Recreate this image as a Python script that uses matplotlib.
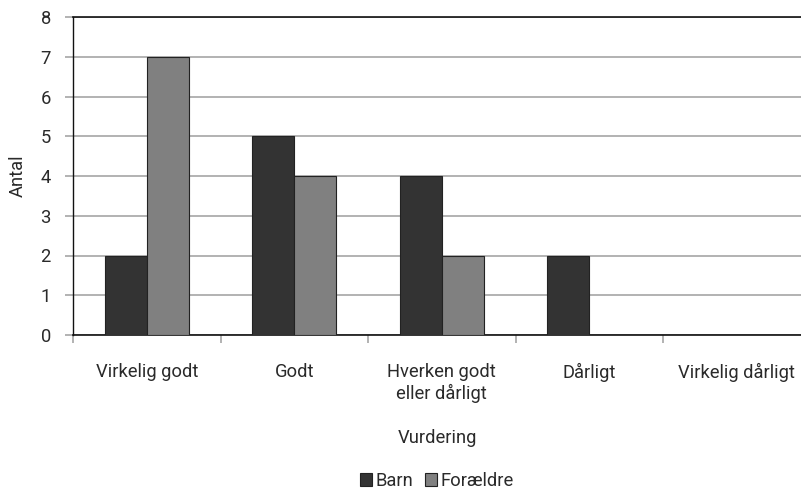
import matplotlib
matplotlib.use("Agg")
import matplotlib.pyplot as plt
import numpy as np
from matplotlib.patches import Patch

categories = ["Virkelig godt", "Godt", "Hverken godt\neller dårligt", "Dårligt", "Virkelig dårligt"]
barn = [2, 5, 4, 2, 0]
foraeldre = [7, 4, 2, 0, 0]
yticks = [0, 1, 2, 3, 4, 5, 6, 7, 8]

plt.rcParams['font.family'] = ['Roboto', 'DejaVu Sans']

FS = 13.2
TC = "#2a2a2a"
W, H = 801, 490
fig = plt.figure(figsize=(W/100, H/100), dpi=100)
left, right, top, bottom = 73, 810.5, 17, 335
ax = fig.add_axes([left/W, (H-bottom)/H, (right-left)/W, (bottom-top)/H])

x = np.arange(len(categories))
bw = 0.285
c_barn = "#333333"
c_for = "#808080"
ax.bar(x - bw/2, barn, bw, color=c_barn, edgecolor="#222222", linewidth=0.8, zorder=3)
ax.bar(x + bw/2, foraeldre, bw, color=c_for, edgecolor="#222222", linewidth=0.8, zorder=3)

ax.set_xlim(-0.5, len(categories) - 0.5)
ax.set_ylim(0, 8)
ax.set_yticks(yticks)
ax.yaxis.grid(True, color="#a6a6a6", linewidth=1.2, zorder=0)
ax.set_axisbelow(True)

ax.spines["right"].set_visible(False)
ax.spines["top"].set_color("#111111")
ax.spines["top"].set_linewidth(1.2)
ax.spines["left"].set_color("#111111")
ax.spines["bottom"].set_color("#111111")
ax.spines["left"].set_linewidth(1.0)
ax.spines["bottom"].set_linewidth(1.2)

ax.tick_params(axis="y", length=6, color="#a6a6a6", width=1.2, pad=10, labelsize=FS, labelcolor=TC)
ax.set_xticks(np.arange(len(categories) + 1) - 0.5, minor=False)
ax.set_xticklabels([])
ax.tick_params(axis="x", which="major", length=6, color="#a6a6a6", width=1.2)
ax.set_xticks(x, minor=True)
ax.set_xticklabels(categories, minor=True, fontsize=FS, color=TC, linespacing=1.2)
ax.tick_params(axis="x", which="minor", length=0, pad=20)

ax.set_ylabel("Antal", fontsize=FS, color=TC, labelpad=10)

fig.text(437/W, 1 - 438/H, "Vurdering", ha="center", va="center", fontsize=FS, color=TC)

handles = [Patch(facecolor=c_barn, edgecolor="#222222", linewidth=0.8, label="Barn"),
           Patch(facecolor=c_for, edgecolor="#222222", linewidth=0.8, label="Forældre")]
fig.legend(handles=handles, loc="center", bbox_to_anchor=(437/W, 1 - 481/H), ncol=2,
           frameon=False, fontsize=FS, handlelength=0.65, handleheight=0.65,
           handletextpad=0.2, columnspacing=0.6, labelcolor=TC)

fig.savefig("out.png", dpi=100)
